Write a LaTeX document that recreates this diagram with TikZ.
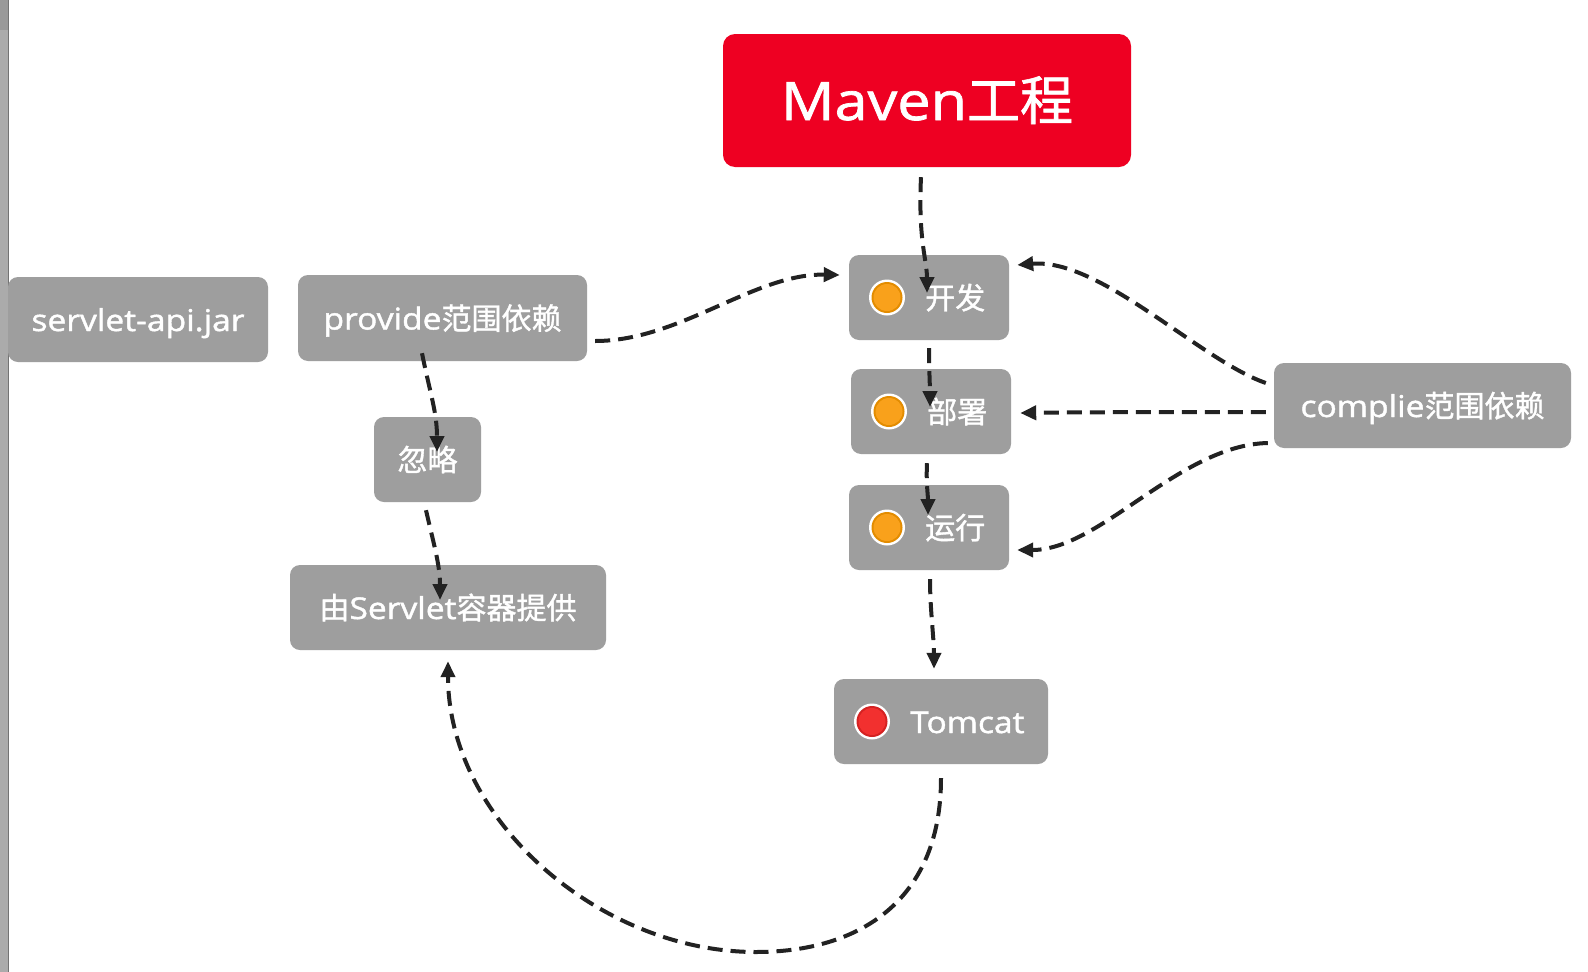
\documentclass[tikz,border=0pt]{standalone}
\usepackage{fontspec}
\setmainfont{Open Sans}[FakeStretch=1.12,FakeBold=1.4]
\newfontfamily\cjk{Noto Sans CJK SC}[FakeBold=1.2]
\usetikzlibrary{arrows.meta}
\definecolor{boxgray}{HTML}{9E9E9E}
\definecolor{mavenred}{HTML}{EE0022}
\definecolor{linedark}{HTML}{222222}
\definecolor{dotorange}{HTML}{F9A11B}
\definecolor{dotorangeedge}{HTML}{E38C00}
\definecolor{dotred}{HTML}{F2302F}
\definecolor{dotrededge}{HTML}{D42222}
\definecolor{barcol}{HTML}{ABABAB}
\tikzset{
  topicbox/.style={fill=boxgray, rounded corners=10pt, inner sep=0pt, text=white,
    font=\fontsize{30}{32}\selectfont, minimum height=85pt, text height=23pt, text depth=0pt},
  mainbox/.style={fill=mavenred, rounded corners=12pt, inner sep=0pt, text=white,
    font=\fontsize{53}{56}\selectfont, text height=39pt, text depth=0pt},
  topictext/.style={text=white, inner sep=0pt, anchor=west, font=\fontsize{30}{32}\selectfont,
    text height=23pt, text depth=0pt},
  rel/.style={draw=linedark, line width=4pt, dash pattern=on 15pt off 8pt,
    -{Triangle[length=16pt,width=14pt]}},
}
\newcommand{\markerdot}[3]{%
  \fill[white] (#1) circle (18pt);
  \fill[#3] (#1) circle (15.5pt);
  \fill[#2] (#1) circle (13.5pt);
}
\begin{document}
\begin{tikzpicture}[x=1pt,y=-1pt]
\useasboundingbox (0,0) rectangle (1588,972);
\fill[white] (0,0) rectangle (1588,972);
% left bar
\fill[barcol] (0,0) rectangle (8,972);
\fill[gray!80] (0,0) rectangle (8,30);
\draw[gray!90!black, line width=1pt] (8.5,0) -- (8.5,972);

% main
\node[mainbox, minimum width=408pt, minimum height=133pt] (maven) at (927,100.5) {Maven{\cjk 工程}};

% left column
\node[topicbox, minimum width=260pt] (servlet) at (138,319.5) {servlet-api.jar};
\node[topicbox, minimum width=289pt, minimum height=86pt] (provide) at (442.5,318) {provide{\cjk 范围依赖}};
\node[topicbox, minimum width=107pt] (hulue) at (427.5,459.5) {\cjk 忽略};
\node[topicbox, minimum width=316pt] (provided) at (448,607.5) {{\cjk 由}Servlet{\cjk 容器提供}};

% right side
\node[topicbox, minimum width=297pt] (complie) at (1422.5,405.5) {complie{\cjk 范围依赖}};

% center column
\node[topicbox, minimum width=160pt] (kaifa) at (929,297.5) {};
\markerdot{887,297.5}{dotorange}{dotorangeedge}
\node[topictext] (kaifatext) at (925,297.5) {\cjk 开发};

\node[topicbox, minimum width=160pt] (bushu) at (931,411.5) {};
\markerdot{889,411.5}{dotorange}{dotorangeedge}
\node[topictext] (bushutext) at (927,411.5) {\cjk 部署};

\node[topicbox, minimum width=160pt] (yunxing) at (929,527.5) {};
\markerdot{887,527.5}{dotorange}{dotorangeedge}
\node[topictext] (yunxingtext) at (925,527.5) {\cjk 运行};

\node[topicbox, minimum width=214pt] (tomcat) at (941,721.5) {};
\markerdot{872,721.5}{dotred}{dotrededge}
\node[topictext] (tomcattext) at (910,721.5) {Tomcat};

% connectors
\draw[rel] ([xshift=-6pt,yshift=-10pt]maven.south) .. controls +(-3,63) and +(0,-33) .. ([xshift=-2pt,yshift=4.5pt]kaifa.center);
\draw[rel] ([yshift=-8pt]kaifa.south) .. controls +(0,20) and +(0,-20) .. ([xshift=-1pt,yshift=4.5pt]bushu.center);
\draw[rel] ([xshift=-4pt,yshift=-9pt]bushu.south) .. controls +(-1,20) and +(0,-20) .. ([xshift=-1pt,yshift=12.5pt]yunxing.center);
\draw[rel] ([xshift=1pt,yshift=-9pt]yunxing.south) .. controls +(0,30) and +(0,-30) .. ([xshift=-7pt,yshift=10pt]tomcat.north);
\coordinate (loop) at (756,952);
\draw[rel] ([yshift=-14pt]tomcat.south) .. controls +(0,122) and +(104,0) .. (loop) .. controls +(-156,0) and +(0,159) .. ([yshift=-11pt]provided.south);
\draw[rel] ([xshift=8pt,yshift=-23pt]provide.east) .. controls +(85,0) and +(-85,-2) .. ([xshift=-9pt,yshift=22.5pt]kaifa.west);
\draw[rel] ([xshift=-20.5pt,yshift=8pt]provide.south) .. controls +(8,40) and +(0,-40) .. ([xshift=9.5pt,yshift=7.5pt]hulue.center);
\draw[rel] ([xshift=-1.5pt,yshift=-8pt]hulue.south) .. controls +(8,35) and +(0,-35) .. ([xshift=-8pt,yshift=7.5pt]provided.center);
\draw[rel] ([xshift=-8pt,yshift=22.5pt]complie.west) .. controls +(-66,-23) and +(83,-7) .. ([xshift=8pt,yshift=32.5pt]kaifa.east);
\draw[rel] ([xshift=-8pt,yshift=-6.5pt]complie.west) .. controls +(-80,0) and +(80,-1) .. ([xshift=9pt,yshift=-1.5pt]bushu.east);
\draw[rel] ([xshift=-6pt,yshift=-37.5pt]complie.west) .. controls +(-88,2) and +(83,0) .. ([xshift=8pt,yshift=-22.5pt]yunxing.east);
\end{tikzpicture}
\end{document}
